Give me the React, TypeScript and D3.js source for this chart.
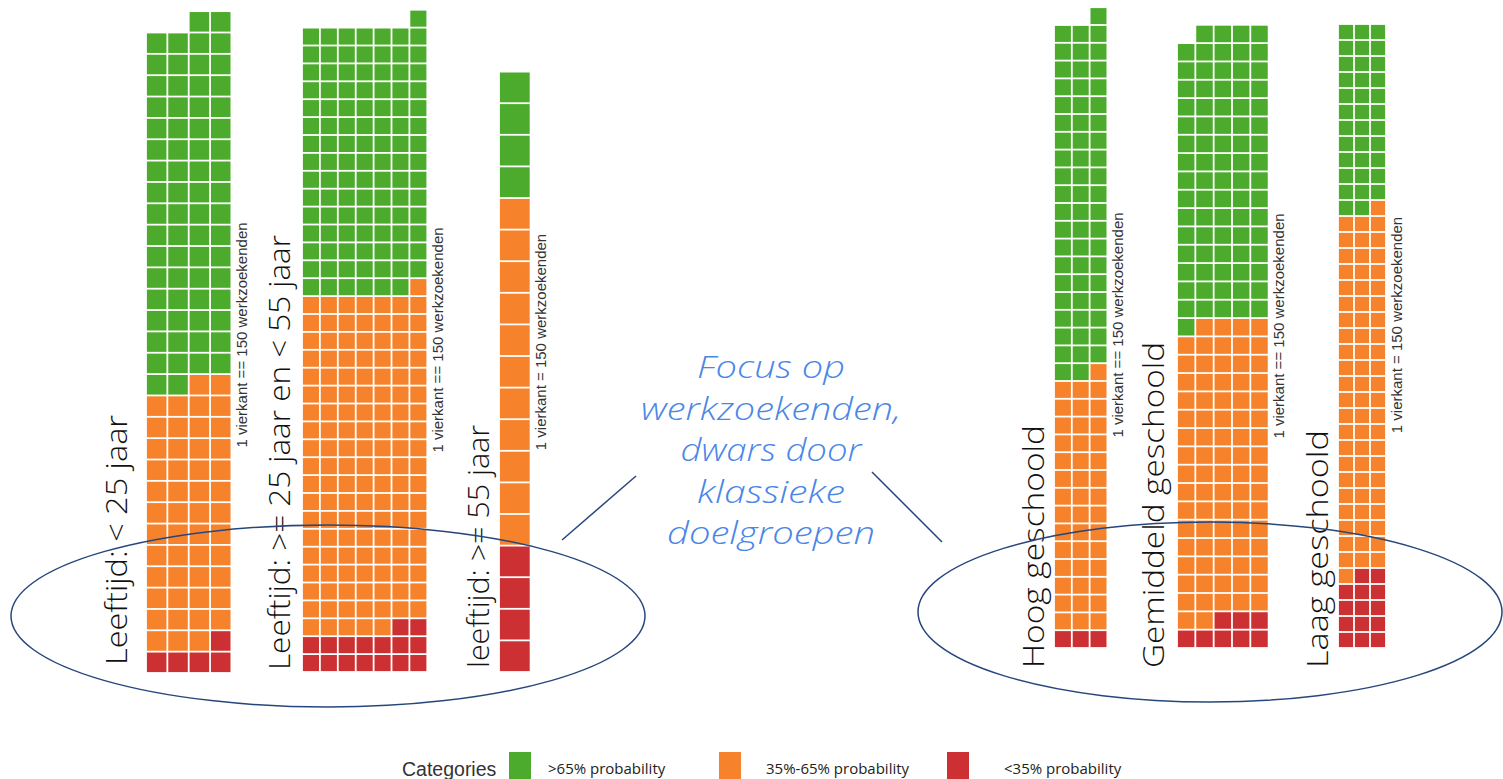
import React, { useEffect, useRef } from 'react'
import * as d3 from 'd3'

// waffle counts per group (1 square = 150 job seekers)
const groupLabels = [
    "Leeftijd: < 25 jaar",
    "Leeftijd: >= 25 jaar en < 55 jaar",
    "leeftijd: >= 55 jaar",
    "Hoog geschoold",
    "Gemiddeld geschoold",
    "Laag geschoold",
]
const highCounts = [68, 105, 4, 60, 80, 35]
const midCounts = [49, 132, 11, 43, 81, 68]
const lowCounts = [5, 16, 4, 3, 8, 14]
const groupColumns = [4, 7, 1, 3, 5, 3]
const scaleNotes = [
    "1 vierkant == 150 werkzoekenden",
    "1 vierkant == 150 werkzoekenden",
    "1 vierkant = 150 werkzoekenden",
    "1 vierkant == 150 werkzoekenden",
    "1 vierkant == 150 werkzoekenden",
    "1 vierkant = 150 werkzoekenden",
]
const categoryLabels = [">65% probability", "35%-65% probability", "<35% probability"]
const focusLines = ["Focus op", "werkzoekenden,", "dwars door", "klassieke", "doelgroepen"]

const colors = ["#4cab2c", "#f6822b", "#cd3033"] // high, mid, low

// where each small waffle sits on the page
const panels = [
    { left: 146, bottom: 673, cell: 21.35, labelX: 127, labelY: 665, labelLen: 250, noteY: 335 },
    { left: 302, bottom: 672, cell: 17.9, labelX: 290, labelY: 670, labelLen: 435, noteY: 340 },
    { left: 499, bottom: 672, cell: 31.6, labelX: 489, labelY: 668, labelLen: 243, noteY: 342 },
    { left: 1054, bottom: 648, cell: 17.8, labelX: 1044, labelY: 668, labelLen: 243, noteY: 325 },
    { left: 1177, bottom: 648, cell: 18.33, labelX: 1164, labelY: 668, labelLen: 326, noteY: 326 },
    { left: 1338, bottom: 648, cell: 16.0, labelX: 1328, labelY: 668, labelLen: 238, noteY: 325 },
]
const focusWidths = [148, 260, 181, 148, 208]

const WIDTH = 1503
const HEIGHT = 779

export default function App() {
    const svgRef = useRef<SVGSVGElement>(null)

    useEffect(() => {
        if (!svgRef.current) return
        const svg = d3.select(svgRef.current)
        svg.selectAll("*").remove()

        svg.append("rect").attr("width", WIDTH).attr("height", HEIGHT).attr("fill", "#fff")

        groupLabels.forEach((label, gi) => {
            const p = panels[gi]
            const cols = groupColumns[gi]
            const counts = [lowCounts[gi], midCounts[gi], highCounts[gi]]
            const cats = [2, 1, 0] // low first, from the bottom up
            const total = d3.sum(counts)
            const nRows = Math.ceil(total / cols)

            const x = d3.scaleLinear().domain([0, cols]).range([p.left, p.left + cols * p.cell])
            const y = d3.scaleLinear().domain([0, nRows]).range([p.bottom, p.bottom - nRows * p.cell])

            const cells: { row: number; col: number; cat: number }[] = []
            let idx = 0
            counts.forEach((n, k) => {
                for (let j = 0; j < n; j++) {
                    cells.push({
                        row: Math.floor(idx / cols),
                        col: cols - 1 - (idx % cols), // rows fill right to left
                        cat: cats[k],
                    })
                    idx++
                }
            })

            const gap = 1.8
            const g = svg.append("g")
            g.selectAll("rect")
                .data(cells)
                .enter().append("rect")
                .attr("x", d => x(d.col) + gap / 2)
                .attr("y", d => y(d.row + 1) + gap / 2)
                .attr("width", p.cell - gap)
                .attr("height", p.cell - gap)
                .attr("fill", d => colors[d.cat])

            // scale note
            g.append("text")
                .attr("transform", `translate(${x(cols) + 15.5},${p.noteY}) rotate(-90)`)
                .attr("text-anchor", "middle")
                .attr("font-family", "'Liberation Sans', Arial, sans-serif")
                .attr("font-size", 15)
                .attr("fill", "#333")
                .text(scaleNotes[gi])

            // big group label
            g.append("text")
                .attr("transform", `translate(${p.labelX},${p.labelY}) rotate(-90)`)
                .attr("text-anchor", "start")
                .attr("font-family", "'Open Sans', Lato, sans-serif")
                .attr("font-weight", 300)
                .attr("font-size", 29)
                .attr("fill", "#111")
                .attr("textLength", p.labelLen)
                .attr("lengthAdjust", "spacingAndGlyphs")
                .text(label)
        })

        // ellipses and connector lines
        const navy = "#27477c"
        svg.append("ellipse")
            .attr("cx", 328).attr("cy", 616).attr("rx", 317).attr("ry", 91)
            .attr("fill", "none").attr("stroke", navy).attr("stroke-width", 1.5)
        svg.append("ellipse")
            .attr("cx", 1210).attr("cy", 612).attr("rx", 292).attr("ry", 90)
            .attr("fill", "none").attr("stroke", navy).attr("stroke-width", 1.5)
        svg.append("line")
            .attr("x1", 636).attr("y1", 476).attr("x2", 562).attr("y2", 540)
            .attr("stroke", navy).attr("stroke-width", 1.5)
        svg.append("line")
            .attr("x1", 872).attr("y1", 472).attr("x2", 942).attr("y2", 542)
            .attr("stroke", navy).attr("stroke-width", 1.5)

        // focus text
        svg.append("g").selectAll("text")
            .data(focusLines)
            .enter().append("text")
            .attr("x", 771)
            .attr("y", (_, i) => 378 + i * 41.5)
            .attr("text-anchor", "middle")
            .attr("font-family", "'Open Sans', Lato, sans-serif")
            .attr("font-style", "italic")
            .attr("font-weight", 300)
            .attr("font-size", 32)
            .attr("fill", "#4a86e8")
            .attr("textLength", (_, i) => focusWidths[i])
            .attr("lengthAdjust", "spacingAndGlyphs")
            .text(d => d)

        // legend
        const legend = svg.append("g")
        legend.append("text")
            .attr("x", 402).attr("y", 776)
            .attr("font-family", "'Liberation Sans', Arial, sans-serif")
            .attr("font-size", 19.5)
            .attr("fill", "#333")
            .text("Categories")
        const swatchX = [509, 719, 947]
        const labelX = [548, 766, 1004]
        categoryLabels.forEach((c, i) => {
            legend.append("rect")
                .attr("x", swatchX[i]).attr("y", 752)
                .attr("width", 22).attr("height", 30)
                .attr("fill", colors[i])
            legend.append("text")
                .attr("x", labelX[i]).attr("y", 774)
                .attr("font-family", "'Open Sans', Lato, sans-serif")
                .attr("font-size", 15)
                .attr("fill", "#222")
                .text(c)
        })
    }, [])

    return (
        <div style={{ width: WIDTH, height: HEIGHT, overflow: "hidden" }}>
            <style>{`body{margin:0;overflow:hidden}`}</style>
            <svg ref={svgRef} width={WIDTH} height={HEIGHT} viewBox={`0 0 ${WIDTH} ${HEIGHT}`} style={{ display: "block" }} />
        </div>
    )
}
